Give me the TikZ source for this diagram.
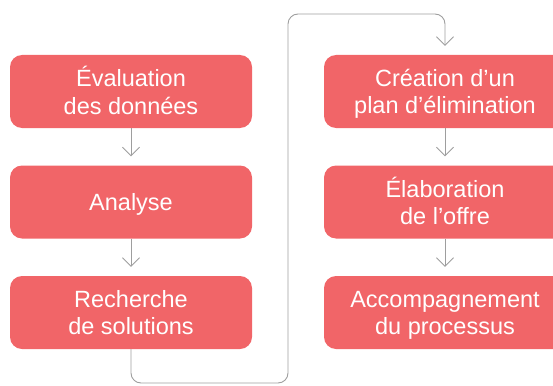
\documentclass[tikz,border=0pt]{standalone}
\usepackage{fontspec}
\setmainfont{Liberation Sans}
\usetikzlibrary{arrows.meta}
\definecolor{boxred}{RGB}{241,101,104}
\definecolor{linegray}{RGB}{158,158,158}
\newcommand\boxlines[1]{\raisebox{0pt}[\dimexpr\height+6pt\relax][\depth]{\begin{tabular}{@{}c@{}}#1\end{tabular}}}
\tikzset{
  stepbox/.style={fill=boxred, draw=none, rounded corners=12pt, minimum width=242pt, minimum height=73pt,
    inner sep=0pt, text=white, font=\fontsize{23.5}{27.5}\selectfont},
  conn/.style={draw=linegray, line width=0.9pt, -{Straight Barb[length=8.5pt,width=17pt]}, shorten >=9pt}
}
\begin{document}
\begin{tikzpicture}[x=1pt,y=-1pt]
\useasboundingbox (0,0) rectangle (553,385);
\node[stepbox] (a1) at (131,91.5) {\boxlines{Évaluation\\des données}};
\node[stepbox] (a2) at (131,202) {\boxlines{Analyse}};
\node[stepbox] (a3) at (131,312.5) {\boxlines{Recherche\\de solutions}};
\node[stepbox] (b1) at (445,91.5) {\boxlines{Création d’un\\plan d’élimination}};
\node[stepbox] (b2) at (445,202) {\boxlines{Élaboration\\de l’offre}};
\node[stepbox] (b3) at (445,312.5) {\boxlines{Accompagnement\\du processus}};
\coordinate (c1) at (288,383);
\coordinate (c2) at (288,14);
\draw[conn] (a1.south) -- (a2.north);
\draw[conn] (a2.south) -- (a3.north);
\draw[conn] (b1.south) -- (b2.north);
\draw[conn] (b2.south) -- (b3.north);
\draw[conn, rounded corners=10pt] (a3.south) |- (c1) -- (c2) -| (b1.north);
\end{tikzpicture}
\end{document}
